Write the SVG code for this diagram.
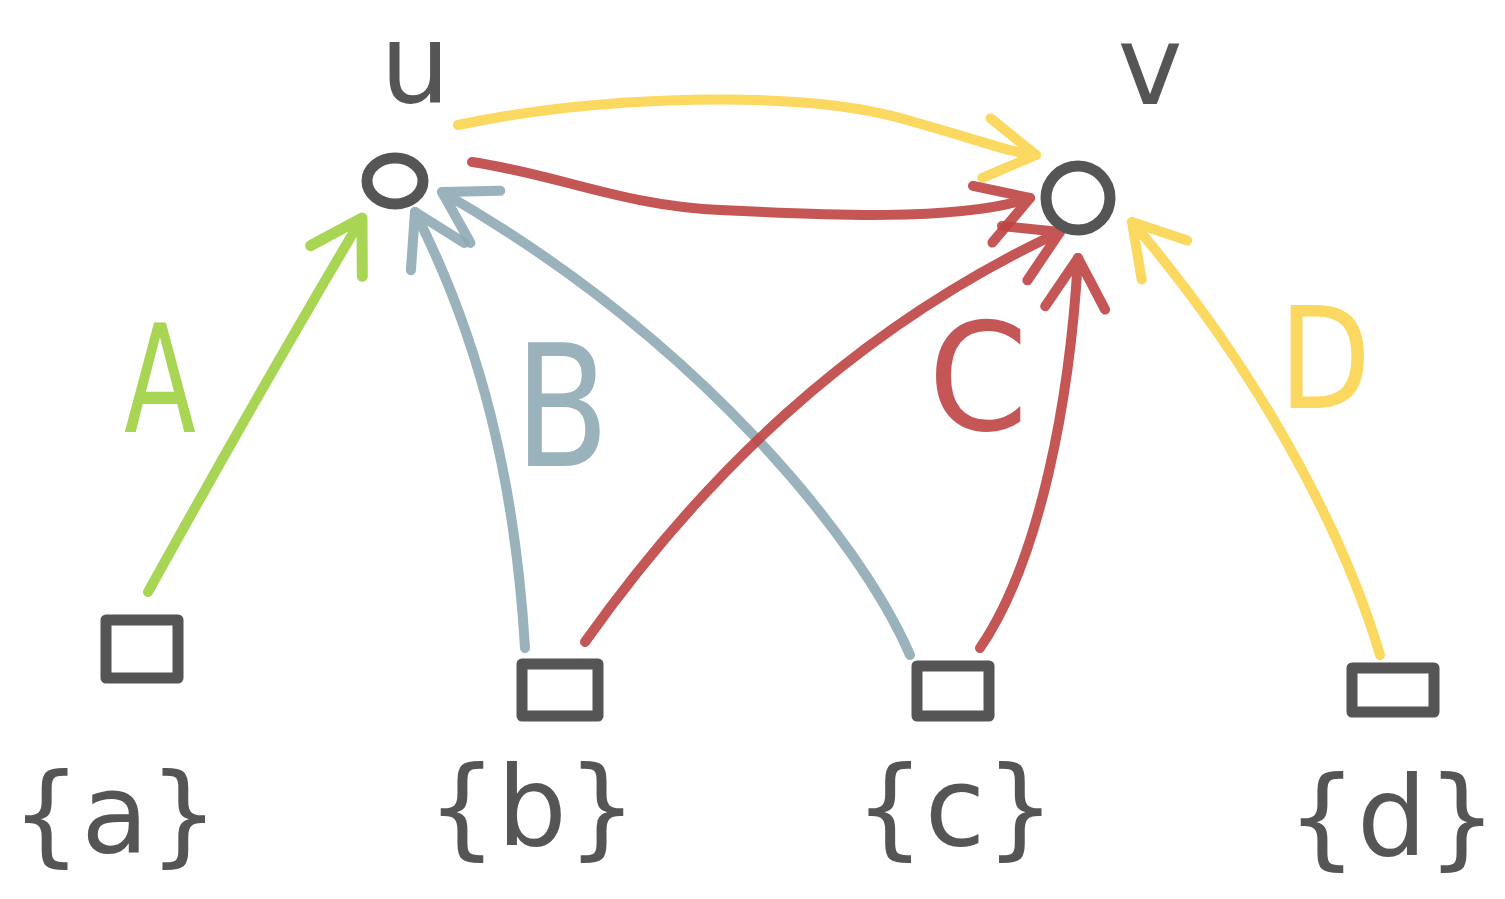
<svg xmlns="http://www.w3.org/2000/svg" width="1505" height="899" viewBox="0 0 1505 899">
<style>
.node{fill:none;stroke:#555;stroke-width:11;stroke-linejoin:round;stroke-linecap:round}
.lbl{font-family:"DejaVu Sans","Liberation Sans",sans-serif;fill:#555}
.set{font-size:110px;text-anchor:middle}
.edge{fill:none;stroke-width:10;stroke-linecap:round;stroke-linejoin:round;opacity:0.9}
.g{stroke:#9fd142}.b{stroke:#8eaab4}.y{stroke:#fbd44e}.r{stroke:#bf4444}
.el{font-family:"DejaVu Sans","Liberation Sans",sans-serif;opacity:0.9}
</style>
<defs>
<marker id="mg" viewBox="-60 -40 70 80" markerWidth="70" markerHeight="80" refX="0" refY="0" orient="auto" markerUnits="userSpaceOnUse"><path d="M-50,-30 L0,0 L-50,30" fill="none" stroke="#9fd142" stroke-width="11" stroke-linecap="round" stroke-linejoin="round"/></marker>
<marker id="mb" viewBox="-60 -40 70 80" markerWidth="70" markerHeight="80" refX="0" refY="0" orient="auto" markerUnits="userSpaceOnUse"><path d="M-50,-30 L0,0 L-50,30" fill="none" stroke="#8eaab4" stroke-width="10" stroke-linecap="round" stroke-linejoin="round"/></marker>
<marker id="my" viewBox="-60 -40 70 80" markerWidth="70" markerHeight="80" refX="0" refY="0" orient="auto" markerUnits="userSpaceOnUse"><path d="M-50,-30 L0,0 L-50,30" fill="none" stroke="#fbd44e" stroke-width="10" stroke-linecap="round" stroke-linejoin="round"/></marker>
<marker id="mr" viewBox="-60 -40 70 80" markerWidth="70" markerHeight="80" refX="0" refY="0" orient="auto" markerUnits="userSpaceOnUse"><path d="M-50,-30 L0,0 L-50,30" fill="none" stroke="#bf4444" stroke-width="10" stroke-linecap="round" stroke-linejoin="round"/></marker>
</defs>
<rect width="1505" height="899" fill="#fff"/>
<g id="connectors">
<path class="edge g" d="M148,592 Q260,390 362,218" marker-end="url(#mg)"/>
<path class="edge b" d="M525,648 C515,480 480,340 415,212" marker-end="url(#mb)"/>
<path class="edge b" d="M910,655 C860,540 700,340 442,192" marker-end="url(#mb)"/>
<path class="edge y" d="M458,125 C600,95 800,90 900,118 S1000,150 1036,155" marker-end="url(#my)"/>
<path class="edge r" d="M472,162 C560,175 620,205 720,210 S960,222 1030,198" marker-end="url(#mr)"/>
<path class="edge r" d="M585,642 C700,480 850,330 1060,232" marker-end="url(#mr)"/>
<path class="edge r" d="M980,648 C1040,560 1070,400 1078,258" marker-end="url(#mr)"/>
<path class="edge y" d="M1380,655 C1340,520 1250,360 1132,222" marker-end="url(#my)"/>
<text class="el" x="160" y="432" font-size="150" fill="#9fd142" text-anchor="middle" textLength="72" lengthAdjust="spacingAndGlyphs">A</text>
<text class="el" x="562" y="466" font-size="170" fill="#8eaab4" text-anchor="middle" textLength="95" lengthAdjust="spacingAndGlyphs">B</text>
<text class="el" x="978" y="430" font-size="150" fill="#bf4444" text-anchor="middle" textLength="100" lengthAdjust="spacingAndGlyphs">C</text>
<text class="el" x="1325" y="408" font-size="140" fill="#fbd44e" text-anchor="middle" textLength="92" lengthAdjust="spacingAndGlyphs">D</text>
</g>
<g id="node-u">
<ellipse class="node" cx="395" cy="181" rx="28" ry="23"/>
<text class="lbl" x="415" y="102" font-size="110" text-anchor="middle">u</text>
</g>
<g id="node-v">
<circle class="node" cx="1078" cy="198" r="32"/>
<text class="lbl" x="1150" y="104" font-size="110" text-anchor="middle">v</text>
</g>
<g id="node-a">
<rect class="node" x="106" y="620" width="72" height="58"/>
<text class="lbl set" x="115" y="852">{a}</text>
</g>
<g id="node-b">
<rect class="node" x="522" y="664" width="76" height="52"/>
<text class="lbl set" x="532" y="845">{b}</text>
</g>
<g id="node-c">
<rect class="node" x="917" y="666" width="72" height="50"/>
<text class="lbl set" x="955" y="845">{c}</text>
</g>
<g id="node-d">
<rect class="node" x="1352" y="668" width="82" height="44"/>
<text class="lbl set" x="1392" y="855">{d}</text>
</g>
</svg>
